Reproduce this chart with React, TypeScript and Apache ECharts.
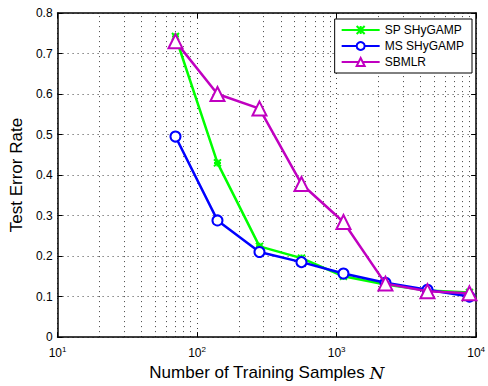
import React, { useEffect, useRef } from "react";
import * as echarts from "echarts";

const samples = [70, 140, 280, 560, 1120, 2240, 4480, 8960];
const spShygamp = [0.742, 0.43, 0.224, 0.195, 0.15, 0.13, 0.115, 0.11];
const msShygamp = [0.495, 0.288, 0.21, 0.185, 0.157, 0.134, 0.117, 0.1];
const sbmlr = [0.73, 0.6, 0.564, 0.378, 0.284, 0.132, 0.113, 0.108];
const minorGridX = [20, 30, 40, 50, 60, 70, 80, 90, 200, 300, 400, 500, 600, 700, 800, 900, 2000, 3000, 4000, 5000, 6000, 7000, 8000, 9000];

const FONT = "Liberation Sans, Arial, Helvetica, sans-serif";

export default function App() {
  const ref = useRef<HTMLDivElement>(null);
  useEffect(() => {
    document.body.style.margin = "0";
    const chart = echarts.init(ref.current!, null, { renderer: "svg" });
    const pair = (ys: number[]) => samples.map((x, i) => [x, ys[i]]);
    const gridLine = { show: true, lineStyle: { color: "#444", type: [1, 4] as any, width: 1 } };
    const xCommon = {
      type: "log" as const,
      logBase: 10,
      min: 10,
      max: 10000,
      axisLine: { show: true, onZero: false, lineStyle: { color: "#000", width: 1.5 } },
      axisTick: { show: true, inside: true, length: 5, lineStyle: { color: "#000" } },
    };
    const yCommon = {
      type: "value" as const,
      min: 0,
      max: 0.8,
      interval: 0.1,
      axisLine: { show: true, onZero: false, lineStyle: { color: "#000", width: 1.5 } },
      axisTick: { show: true, inside: true, length: 5, lineStyle: { color: "#000" } },
    };
    chart.setOption({
      animation: false,
      backgroundColor: "#fff",
      grid: { left: 55, right: 9, top: 13, bottom: 44, containLabel: false },
      legend: {
        z: 20,
        zlevel: 0,
        orient: "vertical",
        right: 16,
        top: 19,
        width: 120,
        itemWidth: 38,
        itemHeight: 10,
        itemGap: 4,
        padding: [5, 8, 5, 6],
        borderColor: "#000",
        borderWidth: 1,
        backgroundColor: "#fff",
        textStyle: { fontFamily: FONT, fontSize: 12, color: "#000" },
        data: ["SP SHyGAMP", "MS SHyGAMP", "SBMLR"],
      },
      xAxis: [
        {
          ...xCommon,
          position: "bottom",
          splitLine: gridLine,
          name: "Number of Training Samples {i|N}",
          nameLocation: "middle",
          nameGap: 22,
          nameTextStyle: {
            fontFamily: FONT,
            fontSize: 17,
            color: "#000",
            rich: { i: { fontFamily: "DejaVu Serif, serif", fontStyle: "italic", fontSize: 17, color: "#000" } },
          },
          axisLabel: {
            margin: 8,
            formatter: (v: number) => `{b|10}{s|${Math.round(Math.log10(v))}}`,
            rich: {
              b: { fontFamily: FONT, fontSize: 12, color: "#000" },
              s: { fontFamily: FONT, fontSize: 8, color: "#000", padding: [0, 0, 8, 0] },
            },
          },
        },
        {
          ...xCommon,
          position: "top",
          splitLine: { show: false },
          axisLabel: { show: false },
        },
      ],
      yAxis: [
        {
          ...yCommon,
          position: "left",
          splitLine: gridLine,
          name: "Test Error Rate",
          nameLocation: "middle",
          nameGap: 30,
          nameTextStyle: { fontFamily: FONT, fontSize: 17, color: "#000" },
          axisLabel: {
            margin: 5,
            fontFamily: FONT,
            fontSize: 12,
            color: "#000",
            formatter: (v: number) => (v === 0 ? "0" : v.toFixed(1)),
          },
        },
        {
          ...yCommon,
          position: "right",
          splitLine: { show: false },
          axisLabel: { show: false },
        },
      ],
      series: [
        {
          name: "minor-grid",
          type: "line",
          data: [],
          silent: true,
          z: 0,
          markLine: {
            silent: true,
            z: 0,
            symbol: "none",
            label: { show: false },
            lineStyle: { color: "#444", type: [1, 4] as any, width: 1 },
            data: minorGridX.map((x) => ({ xAxis: x })),
          },
        },
        {
          name: "SP SHyGAMP",
          type: "line",
          data: pair(spShygamp),
          color: "#00ff00",
          lineStyle: { width: 2.5, color: "#00ff00" },
          symbol: "path://M0,0 L10,10 M10,0 L0,10 M5,0 L5,10 M0,5 L10,5",
          symbolSize: 7,
          itemStyle: { color: "#00ff00", borderColor: "#00ff00", borderWidth: 2 },
          z: 3,
        },
        {
          name: "MS SHyGAMP",
          type: "line",
          data: pair(msShygamp),
          color: "#0000ff",
          lineStyle: { width: 2.5, color: "#0000ff" },
          symbol: "emptyCircle",
          symbolSize: 10,
          itemStyle: { color: "#0000ff", borderColor: "#0000ff", borderWidth: 2.5 },
          z: 4,
        },
        {
          name: "SBMLR",
          type: "line",
          data: pair(sbmlr),
          color: "#c000c0",
          lineStyle: { width: 2.5, color: "#c000c0" },
          symbol: "emptyTriangle",
          symbolSize: 14,
          itemStyle: { color: "#c000c0", borderColor: "#c000c0", borderWidth: 2.5 },
          z: 5,
        },
      ],
    });
    return () => chart.dispose();
  }, []);
  return <div ref={ref} style={{ width: 488, height: 386 }} />;
}
